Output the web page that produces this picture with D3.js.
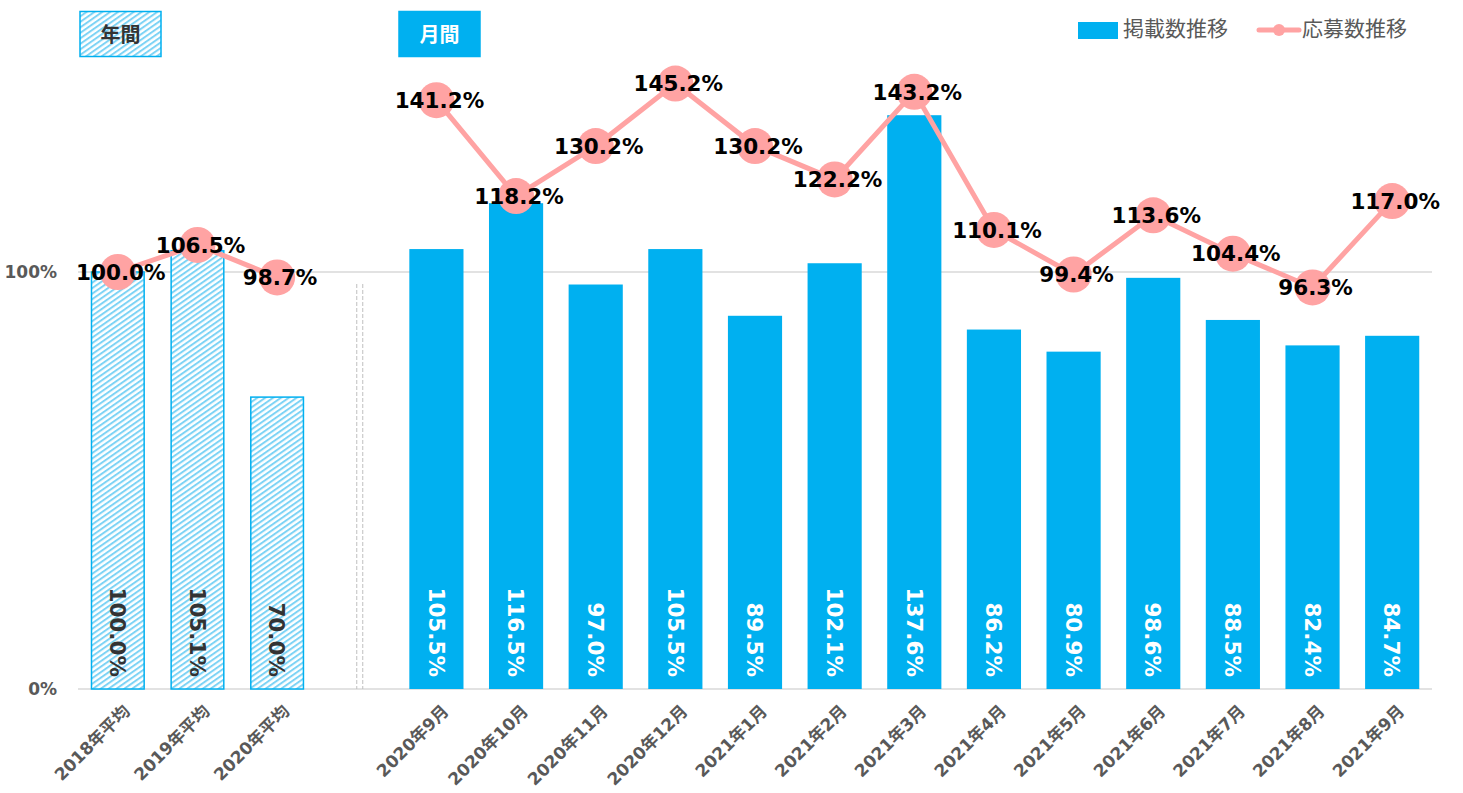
<!DOCTYPE html>
<html><head><meta charset="utf-8">
<script src="https://cdn.jsdelivr.net/npm/d3@7"></script>
<style>
html,body{margin:0;padding:0;background:#fff;}
svg{display:block;font-family:"DejaVu Sans","Noto Sans CJK JP",sans-serif;}
</style></head>
<body>
<svg id="chart" width="1463" height="793"></svg>
<script>
// ---- data ----
const annualCats = ["2018年平均","2019年平均","2020年平均"];
const annualBars = [100.0,105.1,70.0];
const annualLine = [100.0,106.5,98.7];
const monthCats = ["2020年9月","2020年10月","2020年11月","2020年12月","2021年1月","2021年2月","2021年3月","2021年4月","2021年5月","2021年6月","2021年7月","2021年8月","2021年9月"];
const monthBars = [105.5,116.5,97.0,105.5,89.5,102.1,137.6,86.2,80.9,98.6,88.5,82.4,84.7];
const monthLine = [141.2,118.2,130.2,145.2,130.2,122.2,143.2,110.1,99.4,113.6,104.4,96.3,117.0];
const yTicks = [0,100];
const sepKey = "__sep__";
const allCats = [...annualCats, sepKey, ...monthCats];

const BLUE = "#00B0F0", PINK = "#FFA3A3", GRID = "#D9D9D9", AXIS_TXT = "#595959";
const FONT = "'DejaVu Sans','Noto Sans CJK JP',sans-serif";
const JFONT = "'Noto Sans CJK JP',sans-serif";

const svg = d3.select("#chart");
const defs = svg.append("defs");
const pat = defs.append("pattern").attr("id","hatch").attr("patternUnits","userSpaceOnUse")
  .attr("width",4.5).attr("height",4.5).attr("patternTransform","rotate(-35)");
pat.append("rect").attr("width",4.5).attr("height",4.5).attr("fill","#fff");
pat.append("rect").attr("x",0).attr("y",0).attr("width",4.5).attr("height",2).attr("fill","#7DD3F5");

const x = d3.scaleBand().domain(allCats).range([78,1432]).paddingInner(0.32).paddingOuter(0.16);
const y = d3.scaleLinear().domain([0,150]).range([689,63.5]);

// gridlines
svg.append("g").selectAll("line").data(yTicks).join("line")
  .attr("x1",78).attr("x2",1432).attr("y1",d=>y(d)).attr("y2",d=>y(d))
  .attr("stroke",GRID).attr("stroke-width",1.5);

// y tick labels
const yAxis = d3.axisLeft(y).tickValues(yTicks).tickFormat(d=>d+"%").tickSize(0).tickPadding(0);
const ya = svg.append("g").attr("transform","translate(57,0)").call(yAxis);
ya.attr("font-size",null).attr("font-family",null);
ya.select(".domain").remove();
ya.selectAll("text").style("fill",AXIS_TXT).style("font-size","17px").style("font-weight","bold")
  .style("font-family",FONT);

// separator dashed lines
const sx = x(sepKey) + x.bandwidth()/2;
[0,6].forEach(o=>{
  svg.append("line").attr("x1",sx+o).attr("x2",sx+o).attr("y1",284).attr("y2",689)
    .attr("stroke","#BFBFBF").attr("stroke-width",1).attr("stroke-dasharray","4,2");
});

// bars
const annualData = annualCats.map((c,i)=>({c,v:annualBars[i]}));
const monthData = monthCats.map((c,i)=>({c,v:monthBars[i]}));
svg.append("g").selectAll("rect").data(annualData).join("rect")
  .attr("x",d=>x(d.c)+0.75).attr("width",x.bandwidth()-1.5)
  .attr("y",d=>y(d.v)).attr("height",d=>y(0)-y(d.v))
  .attr("fill","url(#hatch)").attr("stroke",BLUE).attr("stroke-width",1.5);
svg.append("g").selectAll("rect").data(monthData).join("rect")
  .attr("x",d=>x(d.c)).attr("width",x.bandwidth())
  .attr("y",d=>y(d.v)).attr("height",d=>y(0)-y(d.v))
  .attr("fill",BLUE);

// bar labels (vertical)
function barLabels(data, color){
  svg.append("g").selectAll("text").data(data).join("text")
    .attr("transform",d=>`translate(${x(d.c)+x.bandwidth()/2},677) rotate(90)`)
    .attr("text-anchor","end").attr("dy","0.36em")
    .style("font-size","21.5px").style("font-weight","bold").attr("fill",color)
    .text(d=>d.v.toFixed(1)+"%");
}
barLabels(annualData,"#333333");
barLabels(monthData,"#FFFFFF");

// lines
const line = d3.line().x(d=>x(d.c)+x.bandwidth()/2).y(d=>y(d.v));
const aLine = annualCats.map((c,i)=>({c,v:annualLine[i]}));
const mLine = monthCats.map((c,i)=>({c,v:monthLine[i]}));
[aLine,mLine].forEach(ld=>{
  svg.append("path").datum(ld).attr("d",line).attr("fill","none")
    .attr("stroke",PINK).attr("stroke-width",5);
  svg.append("g").selectAll("circle").data(ld).join("circle")
    .attr("cx",d=>x(d.c)+x.bandwidth()/2).attr("cy",d=>y(d.v)).attr("r",18)
    .attr("fill",PINK);
});
[aLine,mLine].forEach(ld=>{
  svg.append("g").selectAll("text").data(ld).join("text")
    .attr("x",d=>x(d.c)+x.bandwidth()/2+3).attr("y",d=>y(d.v))
    .attr("text-anchor","middle").attr("dy","0.36em")
    .style("font-size","21.5px").style("font-weight","bold").attr("fill","#000")
    .text(d=>d.v.toFixed(1)+"%");
});

// x axis labels
const xa = svg.append("g");
xa.selectAll("text").data([...annualCats,...monthCats]).join("text")
  .attr("transform",d=>`translate(${x(d)+x.bandwidth()/2+9},708) rotate(-45)`)
  .attr("text-anchor","end").attr("dy","0.36em")
  .style("font-size","17px").style("font-weight","bold").attr("fill",AXIS_TXT)
  .text(d=>d);

// header boxes
function header(bx, label, fill, stroke, tcolor){
  svg.append("rect").attr("x",bx).attr("y",11.5).attr("width",81).attr("height",45)
    .attr("fill",fill).attr("stroke",stroke).attr("stroke-width",1.5);
  svg.append("text").attr("x",bx+40.5).attr("y",35).attr("dy","0.36em")
    .attr("text-anchor","middle").style("font-size","20px").style("font-weight","bold")
    .style("font-family",JFONT).attr("fill",tcolor).text(label);
}
header(80,"年間","url(#hatch)",BLUE,"#333333");
header(399,"月間",BLUE,BLUE,"#FFFFFF");

// legend
const lg = svg.append("g");
lg.append("rect").attr("x",1078).attr("y",22).attr("width",40).attr("height",17).attr("fill",BLUE);
lg.append("text").attr("x",1123).attr("y",28).attr("dy","0.36em").style("font-size","21px")
  .style("font-family",JFONT).attr("fill",AXIS_TXT).text("掲載数推移");
lg.append("line").attr("x1",1259).attr("x2",1299).attr("y1",30).attr("y2",30)
  .attr("stroke",PINK).attr("stroke-width",5).attr("stroke-linecap","round");
lg.append("circle").attr("cx",1279).attr("cy",30).attr("r",6).attr("fill",PINK);
lg.append("text").attr("x",1302).attr("y",28).attr("dy","0.36em").style("font-size","21px")
  .style("font-family",JFONT).attr("fill",AXIS_TXT).text("応募数推移");
</script>
</body></html>
